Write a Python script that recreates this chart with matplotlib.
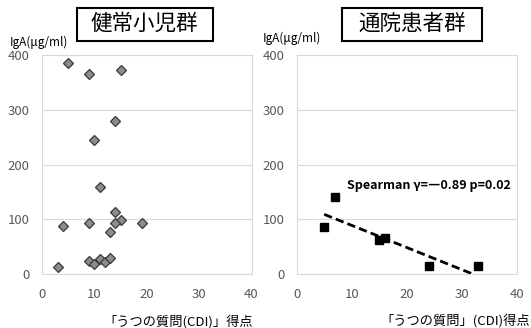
import matplotlib
matplotlib.use("Agg")
import matplotlib.pyplot as plt
from matplotlib.patches import Rectangle

plt.rcParams['font.family'] = ['Noto Sans CJK JP', 'DejaVu Sans']

# ---- data ----
healthy_cdi = [5, 9, 15, 14, 10, 11, 14, 15, 14, 19, 9, 4, 13, 3, 9, 10, 11, 12, 13]
healthy_iga = [385, 366, 372, 279, 244, 158, 113, 99, 94, 94, 94, 88, 77, 12, 24, 18, 27, 22, 30]

patient_cdi = [7, 5, 15, 16, 24, 33]
patient_iga = [140, 85, 62, 65, 15, 15]

trend_x = [5, 32]
trend_y = [109, 0]

x_ticks = [0, 10, 20, 30, 40]
y_ticks = [0, 100, 200, 300, 400]

titles  = ["健常小児群", "通院患者群"]
xlabels = ["「うつの質問(CDI)」得点", "「うつの質問」(CDI)得点"]
ylabel  = "IgA(μg/ml)"
stat_text = "Spearman γ=―0.89 p=0.02"

W, H = 531, 328
fig = plt.figure(figsize=(W / 100, H / 100), dpi=100)

GRID = "#d9d9d9"
TICK = "#595959"


def px_box(x0, x1, y0, y1):
    # pixel box (from top-left) -> figure fraction [left, bottom, width, height]
    return [x0 / W, 1 - y1 / H, (x1 - x0) / W, (y1 - y0) / H]


def style_axes(ax):
    ax.set_xlim(0, 40)
    ax.set_ylim(0, 400)
    ax.set_xticks(x_ticks)
    ax.set_yticks(y_ticks)
    ax.tick_params(length=0, labelsize=9.5, colors=TICK)
    ax.tick_params(axis="x", pad=10)
    ax.tick_params(axis="y", pad=9)
    ax.grid(axis="y", color=GRID, lw=0.8)
    ax.set_axisbelow(True)
    for s in ax.spines.values():
        s.set_color(GRID)
        s.set_linewidth(0.8)


ax1 = fig.add_axes(px_box(42, 251.5, 55, 274))
ax2 = fig.add_axes(px_box(296.7, 516.7, 55, 274))

ax1.plot(healthy_cdi, healthy_iga, ls="none", marker="D", ms=5.2,
         mfc="#8c8c8c", mec="#3a3a3a", mew=0.9, clip_on=False)
style_axes(ax1)

ax2.plot(trend_x, trend_y, color="black", lw=2, ls=(0, (3, 1.5)))
ax2.plot(patient_cdi, patient_iga, ls="none", marker="s", ms=6,
         mfc="black", mec="black", clip_on=False)
ax2.text(9.1, 162, stat_text, fontsize=9, fontweight="bold",
         ha="left", va="center")
style_axes(ax2)

# boxed titles
for (x0, x1), title in zip([(76.5, 213), (341.7, 482)], titles):
    b = px_box(x0, x1, 7.5, 40.5)
    fig.patches.append(Rectangle((b[0], b[1]), b[2], b[3], transform=fig.transFigure,
                                 fc="white", ec="black", lw=1.5, zorder=5))
    fig.text(b[0] + b[2] / 2, b[1] + b[3] / 2, title, fontsize=15.5,
             ha="center", va="center", zorder=6)

# y-axis labels at top-left
fig.text(10 / W, 1 - 42 / H, ylabel, fontsize=8.5, ha="left", va="center")
fig.text(263 / W, 1 - 38.5 / H, ylabel, fontsize=8.5, ha="left", va="center")

# x-axis labels at bottom-right
fig.text(253 / W, 1 - 322 / H, xlabels[0], fontsize=9.5, ha="right", va="center")
fig.text(530 / W, 1 - 321 / H, xlabels[1], fontsize=9.5, ha="right", va="center")

fig.savefig("out.png", dpi=100)
